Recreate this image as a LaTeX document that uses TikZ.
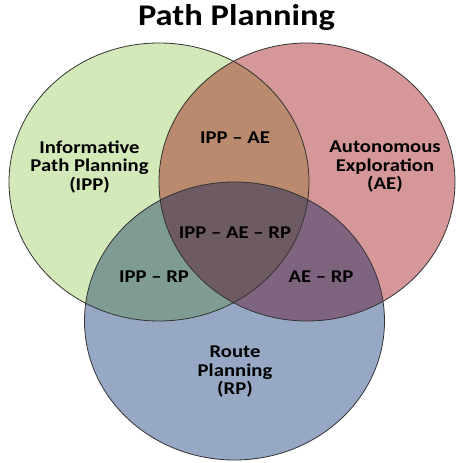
\documentclass[tikz,border=0pt]{standalone}
\usepackage{fontspec}
\setmainfont{Carlito}
\newfontfamily\labelfont[FakeStretch=1.15, Ligatures=TeX]{Carlito}
\begin{document}
\begin{tikzpicture}[x=1pt,y=-1pt,
  setline/.style={draw=black!80, line width=0.8pt},
  lbl/.style={font=\labelfont\bfseries\fontsize{18}{18.5}\selectfont, align=center, inner sep=0pt, text=black}]
\definecolor{cIPP}{HTML}{D4E9BA}
\definecolor{cAE}{HTML}{D59798}
\definecolor{cRP}{HTML}{97A8C4}
\definecolor{cIA}{HTML}{B98A6D}
\definecolor{cIR}{HTML}{7E9C93}
\definecolor{cAR}{HTML}{7F6480}
\definecolor{cIAR}{HTML}{6E5A62}
\useasboundingbox (0,0) rectangle (456,463);
\fill[white] (0,0) rectangle (456,463);
% set shapes
\def\ippset{(159,182) ellipse [x radius=150pt, y radius=139pt]}
\def\aeset{(307,182) ellipse [x radius=148pt, y radius=139pt]}
\def\rpset{(234.5,321) ellipse [x radius=150pt, y radius=139pt]}
\fill[cIPP] \ippset;
\fill[cAE] \aeset;
\fill[cRP] \rpset;
\begin{scope}
  \clip \ippset;
  \fill[cIA] \aeset;
  \fill[cIR] \rpset;
  \clip \aeset;
  \fill[cIAR] \rpset;
\end{scope}
\begin{scope}
  \clip \aeset;
  \clip \rpset;
  \begin{scope}[even odd rule]
    \clip \ippset (0,0) rectangle (456,463);
    \fill[cAR] \rpset;
  \end{scope}
\end{scope}
\draw[setline] \ippset;
\draw[setline] \aeset;
\draw[setline] \rpset;
% labels
\node[font=\labelfont\bfseries\fontsize{30}{32}\selectfont, inner sep=0pt, anchor=base] (title) at (236.5,25) {Path Planning};
\node[lbl] (ipp) at (89.5,167) {Informative\\Path Planning\\(IPP)};
\node[lbl] (ae) at (385,167) {Autonomous\\Exploration\\(AE)};
\node[lbl] (rp) at (235,372) {Route\\Planning\\(RP)};
\node[lbl, anchor=base] (ia) at (235,143) {IPP – AE};
\node[lbl, anchor=base] (iar) at (235,238) {IPP – AE – RP};
\node[lbl, anchor=base] (ir) at (154,282) {IPP – RP};
\node[lbl, anchor=base] (ar) at (321,282) {AE – RP};
\end{tikzpicture}
\end{document}
